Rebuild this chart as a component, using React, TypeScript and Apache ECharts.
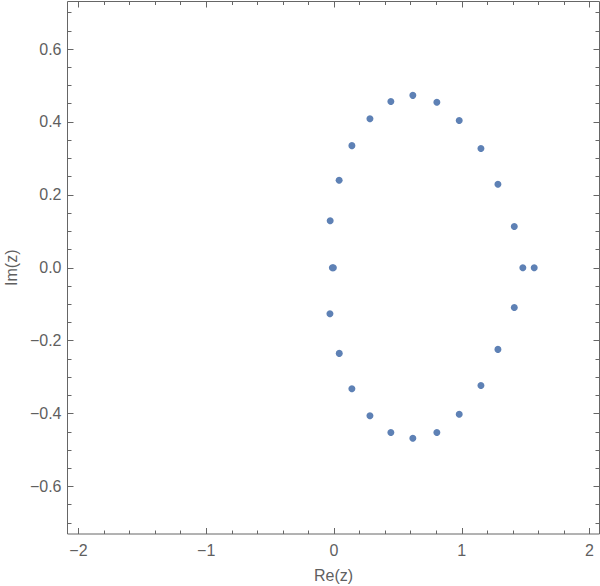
import React, { useEffect, useRef } from 'react';
import * as echarts from 'echarts';

// Points (Re, Im)
const reZ = [
  0.040, 0.140, 0.281, 0.445, 0.617, 0.805, 0.980, 1.150, 1.283,
  -0.030, -0.013, -0.005, -0.032,
  1.411, 1.478, 1.567, 1.411,
  0.041, 0.140, 0.281, 0.445, 0.617, 0.805, 0.980, 1.150, 1.283,
];
const imZ = [
  0.240, 0.335, 0.409, 0.456, 0.473, 0.454, 0.404, 0.327, 0.229,
  0.129, 0.0, 0.0, -0.126,
  0.113, 0.0, 0.0, -0.109,
  -0.235, -0.332, -0.406, -0.452, -0.468, -0.452, -0.402, -0.323, -0.224,
];

const xMajorTicks = [-2, -1, 0, 1, 2];
const xMinorTicks = [
  -1.8, -1.6, -1.4, -1.2, -0.8, -0.6, -0.4, -0.2,
  0.2, 0.4, 0.6, 0.8, 1.2, 1.4, 1.6, 1.8,
];
const yMajorTicks = [-0.6, -0.4, -0.2, 0, 0.2, 0.4, 0.6];
const yMinorTicks = [
  -0.7, -0.65, -0.55, -0.5, -0.45, -0.35, -0.3, -0.25, -0.15, -0.1, -0.05,
  0.05, 0.1, 0.15, 0.25, 0.3, 0.35, 0.45, 0.5, 0.55, 0.65, 0.7,
];

const X_MIN = -2.086;
const X_MAX = 2.078;
const Y_MIN = -0.7305;
const Y_MAX = 0.7305;

const FRAME = '#666666';
const TEXT = '#5f5f5f';
const FONT = 'Liberation Sans, Arial, sans-serif';
const POINT = '#5E81B5';

const fmt = (v: number, d: number) => (v < 0 ? '\u2212' : '') + Math.abs(v).toFixed(d);

function tickAxis(kind: 'x' | 'y', position: string, ticks: number[], len: number, labels: boolean, extra: any = {}) {
  const isX = kind === 'x';
  return {
    type: 'value',
    min: isX ? X_MIN : Y_MIN,
    max: isX ? X_MAX : Y_MAX,
    position,
    axisLine: { show: false, onZero: false },
    splitLine: { show: false },
    axisTick: {
      show: true,
      inside: true,
      length: len,
      customValues: ticks,
      lineStyle: { color: FRAME, width: 1 },
    },
    axisLabel: labels
      ? {
          show: true,
          customValues: ticks,
          formatter: (v: number) => fmt(v, isX ? 0 : 1),
          color: TEXT,
          fontSize: 16,
          fontFamily: FONT,
          margin: isX ? 8 : 6,
        }
      : { show: false },
    ...extra,
  };
}

export default function App() {
  const ref = useRef<HTMLDivElement>(null);

  useEffect(() => {
    if (!ref.current) return;
    const chart = echarts.init(ref.current, null, { renderer: 'svg' });
    const data = reZ.map((x, i) => [x, imZ[i]]);
    const option: any = {
      animation: false,
      backgroundColor: '#ffffff',
      grid: {
        left: 67.5,
        right: 0.5,
        top: 1.5,
        bottom: 52,
        show: true,
        borderColor: FRAME,
        borderWidth: 1,
        backgroundColor: 'transparent',
        containLabel: false,
        outerBoundsMode: 'none',
      },
      xAxis: [
        tickAxis('x', 'bottom', xMajorTicks, 6, true, {
          name: 'Re(z)',
          nameLocation: 'middle',
          nameGap: 33,
          nameTextStyle: { color: TEXT, fontSize: 16, fontFamily: FONT },
        }),
        tickAxis('x', 'bottom', xMinorTicks, 3.5, false),
        tickAxis('x', 'top', xMajorTicks, 6, false),
        tickAxis('x', 'top', xMinorTicks, 3.5, false),
      ],
      yAxis: [
        tickAxis('y', 'left', yMajorTicks, 6, true, {
          name: 'Im(z)',
          nameLocation: 'middle',
          nameGap: 48,
          nameRotate: 90,
          nameTextStyle: { color: TEXT, fontSize: 16, fontFamily: FONT },
        }),
        tickAxis('y', 'left', yMinorTicks, 4, false),
        tickAxis('y', 'right', yMajorTicks, 6, false),
        tickAxis('y', 'right', yMinorTicks, 4, false),
      ],
      series: [
        {
          type: 'scatter',
          xAxisIndex: 0,
          yAxisIndex: 0,
          data,
          symbol: 'circle',
          symbolSize: 7,
          itemStyle: { color: POINT, opacity: 1 },
          emphasis: { disabled: true },
        },
      ],
    };
    chart.setOption(option);
    return () => chart.dispose();
  }, []);

  return (
    <div
      ref={ref}
      style={{ position: 'fixed', left: 0, top: 0, width: 600, height: 586, background: '#fff' }}
    />
  );
}
